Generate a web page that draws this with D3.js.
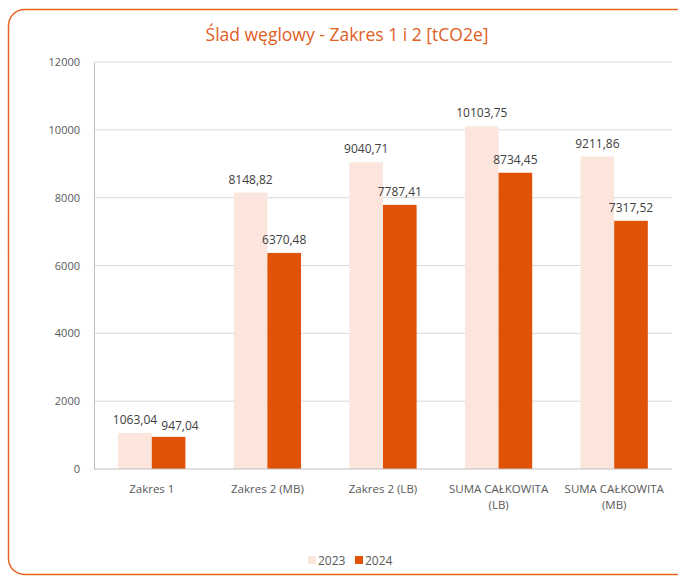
<!DOCTYPE html>
<html>
<head>
<meta charset="utf-8">
<script src="https://cdn.jsdelivr.net/npm/d3@7"></script>
<style>
  body { margin: 0; background: #fff; }
  text { font-family: "Open Sans", sans-serif; }
</style>
</head>
<body>
<svg width="678" height="576"></svg>
<script>
  var categories = [["Zakres 1"], ["Zakres 2 (MB)"], ["Zakres 2 (LB)"], ["SUMA CAŁKOWITA", "(LB)"], ["SUMA CAŁKOWITA", "(MB)"]];
  var series = ["2023", "2024"];
  var values2023 = [1063.04, 8148.82, 9040.71, 10103.75, 9211.86];
  var values2024 = [947.04, 6370.48, 7787.41, 8734.45, 7317.52];
  var yTicks = [0, 2000, 4000, 6000, 8000, 10000, 12000];
  var colors = ["#fbe5dc", "#e05206"];

  var svg = d3.select("svg");

  // frame
  svg.append("rect")
      .attr("x", 8.5).attr("y", 9.5)
      .attr("width", 700).attr("height", 565)
      .attr("rx", 16)
      .attr("fill", "none")
      .attr("stroke", "#e8641e")
      .attr("stroke-width", 1.5);

  svg.append("text")
      .attr("x", 347).attr("y", 41)
      .attr("text-anchor", "middle")
      .attr("fill", "#e0601f")
      .attr("font-size", 17.5)
      .text("Ślad węglowy - Zakres 1 i 2 [tCO2e]");

  var pLeft = 94, pRight = 672, pTop = 62, pBottom = 469;

  var x = d3.scaleBand()
      .domain(d3.range(categories.length))
      .range([pLeft, pRight]);

  var x1 = d3.scaleBand()
      .domain(series)
      .range([0, x.bandwidth()])
      .paddingOuter(0.72)
      .paddingInner(0);

  var y = d3.scaleLinear()
      .domain([0, 12000])
      .range([pBottom, pTop]);

  // gridlines
  svg.append("g")
    .selectAll("line")
    .data(yTicks.slice(1))
    .enter().append("line")
      .attr("x1", pLeft).attr("x2", pRight)
      .attr("y1", function(d) { return y(d); })
      .attr("y2", function(d) { return y(d); })
      .attr("stroke", "#d9d9d9");

  var yAxis = svg.append("g")
      .attr("transform", "translate(" + pLeft + ",0)")
      .call(d3.axisLeft(y).tickValues(yTicks).tickSize(0).tickPadding(14).tickFormat(d3.format("d")));
  yAxis.select(".domain").attr("stroke", "#bfbfbf");
  yAxis.selectAll("text").attr("fill", "#595959").attr("font-size", 11).attr("font-family", "Open Sans");

  var data = categories.map(function(c, i) {
    return [values2023[i], values2024[i]];
  });

  var groups = svg.append("g")
    .selectAll("g")
    .data(data)
    .enter().append("g")
      .attr("transform", function(d, i) { return "translate(" + x(i) + ",0)"; });

  groups.selectAll("rect")
    .data(function(d) { return d.map(function(v, j) { return { s: series[j], v: v, j: j }; }); })
    .enter().append("rect")
      .attr("x", function(d) { return x1(d.s); })
      .attr("width", x1.bandwidth())
      .attr("y", function(d) { return y(d.v); })
      .attr("height", function(d) { return pBottom - y(d.v); })
      .attr("fill", function(d) { return colors[d.j]; });

  groups.each(function() {
    var g = d3.select(this);
    var labels = g.selectAll("text.val")
      .data(function(d) { return d.map(function(v, j) { return { s: series[j], v: v }; }); })
      .enter().append("text")
        .attr("class", "val")
        .attr("x", function(d) { return x1(d.s) + x1.bandwidth() / 2; })
        .attr("y", function(d) { return y(d.v) - 9; })
        .attr("text-anchor", "middle")
        .attr("fill", "#404040")
        .attr("font-size", 12)
        .text(function(d) { return d.v.toFixed(2).replace(".", ","); });
    // push second label right if it collides with the first
    var n = labels.nodes();
    var a = n[0].getBBox(), b = n[1].getBBox();
    var overlapY = a.y < b.y + b.height && b.y < a.y + a.height;
    if (overlapY && a.x + a.width + 4 > b.x) {
      var shift = a.x + a.width + 4 - b.x;
      d3.select(n[1]).attr("x", +n[1].getAttribute("x") + shift)
        .attr("y", +n[1].getAttribute("y") + 2);
    }
  });

  // bottom axis line
  svg.append("line")
      .attr("x1", pLeft).attr("x2", pRight)
      .attr("y1", pBottom).attr("y2", pBottom)
      .attr("stroke", "#bfbfbf");

  var xl = svg.append("g")
    .selectAll("text")
    .data(categories)
    .enter().append("text")
      .attr("x", function(d, i) { return x(i) + x.bandwidth() / 2; })
      .attr("y", 493)
      .attr("text-anchor", "middle")
      .attr("fill", "#595959")
      .attr("font-size", 11.5);
  xl.selectAll("tspan")
    .data(function(d) { return d; })
    .enter().append("tspan")
      .attr("x", function() { return this.parentNode.getAttribute("x"); })
      .attr("dy", function(d, i) { return i ? 16 : 0; })
      .text(function(d) { return d; });

  // legend
  var lg = svg.append("g")
    .selectAll("g")
    .data(series)
    .enter().append("g")
      .attr("transform", function(d, i) { return "translate(" + (308 + i * 47) + ",556)"; });
  lg.append("rect")
      .attr("width", 8).attr("height", 8)
      .attr("fill", function(d, i) { return colors[i]; });
  lg.append("text")
      .attr("x", 10).attr("y", 8.5)
      .attr("fill", "#595959")
      .attr("font-size", 12)
      .text(function(d) { return d; });
</script>
</body>
</html>
